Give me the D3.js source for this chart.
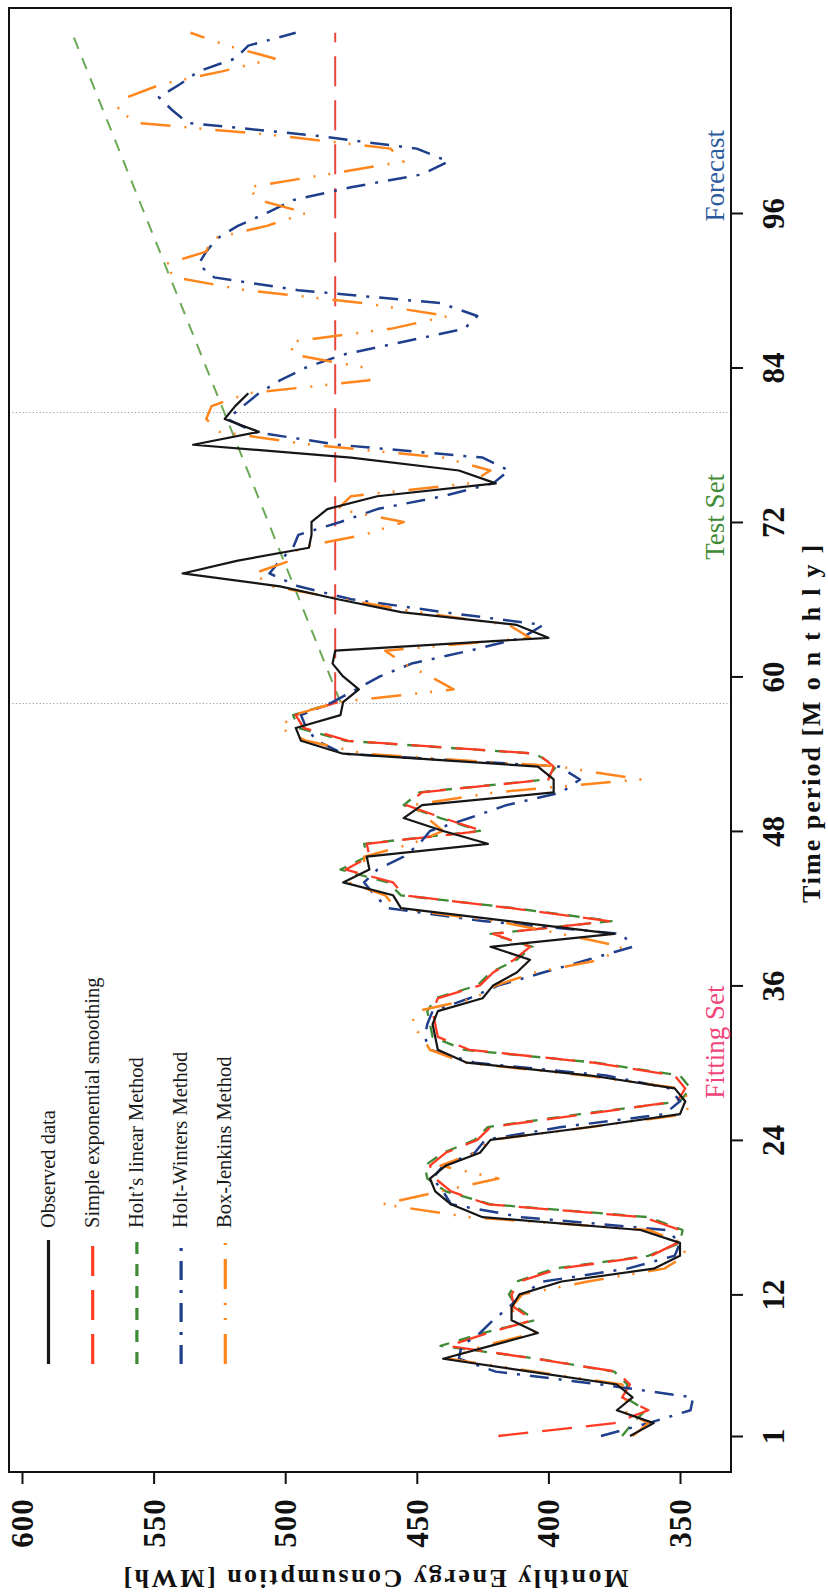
<!DOCTYPE html>
<html>
<head>
<meta charset="utf-8">
<script src="https://cdn.jsdelivr.net/npm/d3@7"></script>
<style>
    body { margin: 0; background: #fff; }
    svg { display: block; }
    text { font-family: "Liberation Serif", "Times New Roman", serif; }
</style>
</head>
<body>
<svg id="chart" width="828" height="1595"></svg>
<script>
// tick values
const valueTicks = [600, 550, 500, 450, 400, 350];
const timeTicks = [1, 12, 24, 36, 48, 60, 72, 84, 96];
const splitMonths = [57.9, 80.5];

// observed data, month 1..82
const observed = [369, 360, 374, 368, 374, 407, 440, 422, 404, 414,
    414, 411, 395, 360, 350, 350, 365, 425, 437, 443,
    445, 439, 426, 422, 384, 350, 348, 352, 384, 431,
    442, 443, 444, 442, 425, 421, 412, 407, 422, 375,
    415, 456, 459, 478, 468, 469, 423, 440, 455, 448,
    398, 398, 404, 478, 494, 496, 479, 478, 472, 478,
    482, 481, 400, 412, 456, 480, 502, 539, 518, 491,
    490, 490, 484, 465, 420, 434, 475, 535, 510, 523,
    519, 514];

// simple exponential smoothing, fitted months 1..58
const sesFit = [419, 375, 362, 372, 369, 374, 405, 438, 423, 406,
    413, 414, 411, 396, 361, 351, 350, 364, 423, 437,
    443, 445, 439, 427, 422, 386, 351, 348, 352, 383,
    430, 442, 443, 444, 442, 426, 421, 413, 407, 421,
    377, 414, 455, 459, 477, 468, 469, 425, 440, 454,
    448, 400, 398, 404, 476, 493, 496, 480];
const sesForecastT = [58, 110];
const sesForecastV = [481, 481];

// Holt's linear, fitted months 1..58
const holtFit = [372, 368, 363, 371, 370, 375, 404, 441, 425, 405,
    412, 415, 412, 398, 362, 350, 349, 362, 422, 439,
    446, 447, 440, 428, 423, 388, 350, 346, 350, 382,
    432, 444, 445, 446, 443, 427, 422, 412, 406, 422,
    376, 413, 456, 461, 479, 469, 470, 426, 441, 455,
    449, 401, 397, 405, 477, 495, 497, 481];
const holtForecastT = [58, 110];
const holtForecastV = [479, 581];

// Holt-Winters, months 1..110
const holtWinters = [380, 362, 346, 345, 380, 420, 434, 433, 426, 421,
    415, 410, 402, 370, 352, 350, 355, 410, 437, 440,
    444, 440, 428, 424, 395, 356, 350, 354, 378, 428,
    445, 447, 446, 444, 430, 419, 402, 385, 368, 372,
    425, 461, 466, 470, 465, 455, 449, 445, 430, 416,
    395, 388, 396, 478, 488, 492, 494, 482, 473, 464,
    452, 430, 410, 402, 440, 475, 495, 506, 502, 497,
    495, 479, 465, 440, 421, 415, 425, 480, 512, 522,
    516, 510, 502, 492, 478, 455, 432, 427, 441, 495,
    527, 533, 530, 526, 518, 507, 497, 475, 448, 438,
    450, 488, 537, 543, 548, 540, 533, 519, 514, 496];

// Box-Jenkins, months 1..110
const boxJenkins = [368, 362, 372, 370, 372, 405, 438, 425, 405, 412,
    414, 410, 385, 356, 348, 349, 362, 430, 463, 441,
    419, 441, 428, 422, 384, 348, 346, 350, 386, 432,
    445, 448, 452, 450, 428, 420, 405, 380, 372, 395,
    420, 458, 462, 476, 470, 470, 452, 440, 446, 452,
    420, 365, 396, 470, 492, 502, 497, 480, 436, 445,
    455, 462, 407, 415, 450, 478, 505, 512, 498, 495,
    470, 455, 480, 475, 430, 422, 440, 490, 525, 530,
    528, 514, 468, 470, 497, 498, 460, 438, 470, 515,
    542, 546, 530, 528, 507, 492, 510, 514, 484, 455,
    460, 502, 556, 564, 560, 547, 524, 504, 522, 536];

const legendNames = ["Observed data", "Simple exponential smoothing", "Holt\u2019s linear Method",
    "Holt-Winters Method", "Box-Jenkins Method"];
const legendColors = ["#161616", "#ff3b24", "#3f8a35", "#1f3f8c", "#ff861c"];
const legendDashes = [null, "30,14", "12,10", "19,10,3,10", "30,14,2,13,2,14"];

const svg = d3.select("#chart");

// chart is drawn turned: value runs right-to-left, time runs bottom-to-top
const frame = {left: 9, top: 8, right: 731, bottom: 1472};
const xV = d3.scaleLinear().domain([600, 350]).range([22, 680]);
const yT = d3.scaleLinear().domain([1, 96]).range([1436, 213]);

function toPoints(values) {
    return values.map(function (v, i) { return {t: i + 1, v: v}; });
}
function pairPoints(ts, vs) {
    return ts.map(function (t, i) { return {t: t, v: vs[i]}; });
}

const line = d3.line()
    .x(function (d) { return xV(d.v); })
    .y(function (d) { return yT(d.t); });

// split dividers
svg.selectAll(".divider")
    .data(splitMonths)
    .enter().append("line")
    .attr("class", "divider")
    .attr("x1", frame.left).attr("x2", frame.right)
    .attr("y1", function (d) { return yT(d); })
    .attr("y2", function (d) { return yT(d); })
    .attr("stroke", "#9b9b9b")
    .attr("stroke-width", 1)
    .attr("stroke-dasharray", "1.2,2.2");

const series = [
    {pts: toPoints(holtFit), color: legendColors[2], dash: legendDashes[2], w: 2.3},
    {pts: pairPoints(holtForecastT, holtForecastV), color: "#6aa955", dash: legendDashes[2], w: 2},
    {pts: toPoints(sesFit), color: legendColors[1], dash: legendDashes[1], w: 2.3},
    {pts: pairPoints(sesForecastT, sesForecastV), color: "#e8463a", dash: legendDashes[1], w: 2},
    {pts: toPoints(holtWinters), color: legendColors[3], dash: legendDashes[3], w: 2.5},
    {pts: toPoints(boxJenkins), color: legendColors[4], dash: legendDashes[4], w: 2.5},
    {pts: toPoints(observed), color: legendColors[0], dash: null, w: 2.2}
];

svg.append("g").selectAll("path")
    .data(series)
    .enter().append("path")
    .attr("d", function (d) { return line(d.pts); })
    .attr("fill", "none")
    .attr("stroke", function (d) { return d.color; })
    .attr("stroke-width", function (d) { return d.w; })
    .attr("stroke-dasharray", function (d) { return d.dash; })
    .attr("stroke-linejoin", "round");

// frame
svg.append("rect")
    .attr("x", frame.left).attr("y", frame.top)
    .attr("width", frame.right - frame.left).attr("height", frame.bottom - frame.top)
    .attr("fill", "none").attr("stroke", "#111").attr("stroke-width", 2);

// value axis (bottom)
const gV = svg.append("g")
    .attr("transform", "translate(0," + frame.bottom + ")")
    .call(d3.axisBottom(xV).tickValues(valueTicks).tickSize(12).tickFormat(d3.format("d")));
gV.select(".domain").remove();
gV.selectAll(".tick line").attr("stroke", "#111").attr("stroke-width", 2);
gV.selectAll(".tick text")
    .attr("y", null).attr("dy", null)
    .attr("transform", "translate(0,51) rotate(-90)")
    .attr("text-anchor", "middle")
    .attr("dominant-baseline", "central")
    .attr("font-size", 31).attr("font-weight", "bold")
    .attr("letter-spacing", 1)
    .attr("font-family", "Liberation Serif, serif")
    .attr("fill", "#111");

// time axis (right)
const gT = svg.append("g")
    .attr("transform", "translate(" + frame.right + ",0)")
    .call(d3.axisRight(yT).tickValues(timeTicks).tickSize(12));
gT.select(".domain").remove();
gT.selectAll(".tick line").attr("stroke", "#111").attr("stroke-width", 2);
gT.selectAll(".tick text")
    .attr("x", null).attr("dy", null)
    .attr("transform", "translate(42,0) rotate(-90)")
    .attr("text-anchor", "middle")
    .attr("dominant-baseline", "central")
    .attr("font-size", 31).attr("font-weight", "bold")
    .attr("font-family", "Liberation Serif, serif")
    .attr("fill", "#111");

// axis titles
svg.append("text")
    .attr("transform", "translate(376,1578) rotate(180)")
    .attr("text-anchor", "middle").attr("dominant-baseline", "central")
    .attr("font-size", 26).attr("font-weight", "bold").attr("fill", "#111")
    .attr("textLength", 505).attr("lengthAdjust", "spacing")
    .text("Monthly Energy Consumption [MWh]");

const timeTitle = svg.append("text")
    .attr("transform", "translate(811,724) rotate(-90)")
    .attr("text-anchor", "middle").attr("dominant-baseline", "central")
    .attr("font-size", 26).attr("font-weight", "bold").attr("fill", "#111");
timeTitle.append("tspan").attr("letter-spacing", 2).text("Time period [");
timeTitle.append("tspan").attr("letter-spacing", 11).text("Monthly");
timeTitle.append("tspan").text("]");

// set labels
const setLabels = [
    {name: "Fitting Set", t: 31.6, color: "#f0457a"},
    {name: "Test Set", t: 72.4, color: "#3f8a35"},
    {name: "Forecast", t: 98.9, color: "#2c5a9c"}
];
svg.selectAll(".set-label")
    .data(setLabels)
    .enter().append("text")
    .attr("class", "set-label")
    .attr("transform", function (d) { return "translate(724," + yT(d.t) + ") rotate(-90)"; })
    .attr("text-anchor", "middle")
    .attr("font-size", 27)
    .attr("fill", function (d) { return d.color; })
    .text(function (d) { return d.name; });

// legend
const legend = svg.append("g").selectAll("g")
    .data(legendNames)
    .enter().append("g")
    .attr("transform", function (d, i) { return "translate(" + (48.5 + i * 44.2) + ",0)"; });

legend.append("line")
    .attr("x1", 0).attr("x2", 0)
    .attr("y1", 1364).attr("y2", 1240)
    .attr("stroke", function (d, i) { return legendColors[i]; })
    .attr("stroke-width", 3.2)
    .attr("stroke-dasharray", function (d, i) { return legendDashes[i]; });

legend.append("text")
    .attr("transform", "translate(6,1228) rotate(-90)")
    .attr("text-anchor", "start")
    .attr("font-size", 20.5)
    .attr("fill", "#1a1a1a")
    .text(function (d) { return d; });
</script>
</body>
</html>
